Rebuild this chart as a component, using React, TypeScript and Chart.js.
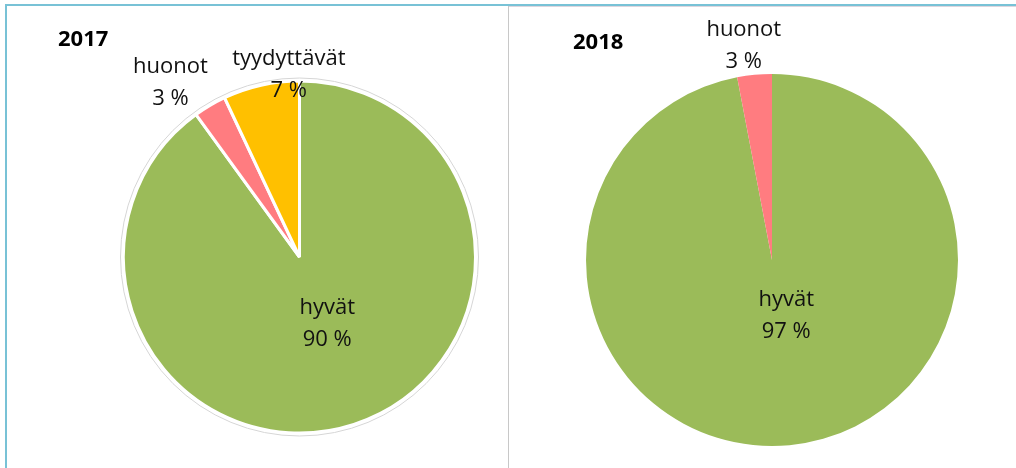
import React, { useEffect, useRef } from "react";
import { Chart, registerables } from "chart.js";

Chart.register(...registerables);

// ---- data ----
const labels2017 = ["hyvät", "huonot", "tyydyttävät"];
const values2017 = [90, 3, 7];
const colors2017 = ["#9bbb59", "#ff7c80", "#ffc000"];

const labels2018 = ["hyvät", "huonot"];
const values2018 = [97, 3];
const colors2018 = ["#9bbb59", "#ff7c80"];

const title2017 = "2017";
const title2018 = "2018";

const FONT = "'Open Sans', 'Noto Sans', sans-serif";

type LabelPos = { f: number; dx: number; dy: number };

const labelPlugin = {
  id: "pieLabels",
  afterDatasetsDraw(chart: any) {
    const cfg = chart.options.plugins.pieLabels;
    if (!cfg) return;
    const ctx = chart.ctx;
    const meta = chart.getDatasetMeta(0);
    const ds = chart.data.datasets[0];
    const total = ds.data.reduce((a: number, b: number) => a + b, 0);
    ctx.save();
    if (cfg.outline) {
      const a0 = meta.data[0];
      ctx.beginPath();
      ctx.arc(a0.x, a0.y, a0.outerRadius + cfg.outline.gap, 0, Math.PI * 2);
      ctx.strokeStyle = cfg.outline.color;
      ctx.lineWidth = 1;
      ctx.stroke();
    }
    ctx.fillStyle = "#111";
    ctx.font = `22px ${FONT}`;
    ctx.textAlign = "center";
    ctx.textBaseline = "middle";
    meta.data.forEach((arc: any, i: number) => {
      const p: LabelPos = cfg.pos[i];
      const mid = (arc.startAngle + arc.endAngle) / 2;
      const r = arc.outerRadius;
      const x = arc.x + Math.cos(mid) * r * p.f + p.dx;
      const y = arc.y + Math.sin(mid) * r * p.f + p.dy;
      const pct = Math.round((ds.data[i] / total) * 100) + " %";
      ctx.fillText(chart.data.labels[i], x, y - 16);
      ctx.fillText(pct, x, y + 16);
    });
    ctx.font = `bold 22px ${FONT}`;
    ctx.textAlign = "left";
    ctx.fillStyle = "#000";
    ctx.fillText(cfg.title.text, cfg.title.x, cfg.title.y);
    ctx.restore();
  },
};

function PieChart(props: {
  labels: string[];
  values: number[];
  colors: string[];
  radius: number;
  border: number;
  padding: any;
  pos: LabelPos[];
  title: any;
  outline?: any;
  width: number;
  height: number;
}) {
  const ref = useRef<HTMLCanvasElement>(null);
  useEffect(() => {
    const chart = new Chart(ref.current!, {
      type: "pie",
      data: {
        labels: props.labels,
        datasets: [
          {
            data: props.values,
            backgroundColor: props.colors,
            borderColor: "#ffffff",
            borderWidth: props.border,
            radius: props.radius,
          } as any,
        ],
      },
      options: {
        animation: false,
        responsive: false,
        maintainAspectRatio: false,
        layout: { padding: props.padding },
        plugins: {
          legend: { display: false },
          tooltip: { enabled: false },
          pieLabels: { pos: props.pos, title: props.title, outline: props.outline },
        } as any,
      },
      plugins: [labelPlugin],
    });
    return () => chart.destroy();
  }, []);
  return <canvas ref={ref} width={props.width} height={props.height} style={{ display: "block", width: props.width, height: props.height }} />;
}

export default function App() {
  return (
    <div style={{ position: "fixed", left: 0, top: 0, width: 1016, height: 468, background: "#fff", overflow: "hidden" }}>
      <div style={{ position: "absolute", left: 5, top: 4, width: 1011, height: 2, background: "#78c2d6" }} />
      <div style={{ position: "absolute", left: 5, top: 4, width: 2, height: 464, background: "#78c2d6" }} />
      <div style={{ position: "absolute", left: 509, top: 6, width: 507, height: 1, background: "#ddd6de" }} />
      <div style={{ position: "absolute", left: 508, top: 6, width: 1, height: 462, background: "#c8c8c8" }} />
      <div style={{ position: "absolute", left: 7, top: 6 }}>
        <PieChart
          labels={labels2017}
          values={values2017}
          colors={colors2017}
          radius={176}
          border={3}
          padding={{ left: 84, right: 0, top: 40, bottom: 0 }}
          pos={[
            { f: 0.4, dx: 6, dy: 0 },
            { f: 1.15, dx: -26, dy: 0 },
            { f: 1.06, dx: 30, dy: 0 },
          ]}
          title={{ text: title2017, x: 51, y: 34 }}
          outline={{ gap: 3, color: "#d6d6d6" }}
          width={501}
          height={462}
        />
      </div>
      <div style={{ position: "absolute", left: 509, top: 6 }}>
        <PieChart
          labels={labels2018}
          values={values2018}
          colors={colors2018}
          radius={186}
          border={0}
          padding={{ left: 19, right: 0, top: 46, bottom: 0 }}
          pos={[
            { f: 0.3, dx: 9, dy: 0 },
            { f: 1.155, dx: -8, dy: 0 },
          ]}
          title={{ text: title2018, x: 64, y: 37 }}
          width={507}
          height={462}
        />
      </div>
    </div>
  );
}
